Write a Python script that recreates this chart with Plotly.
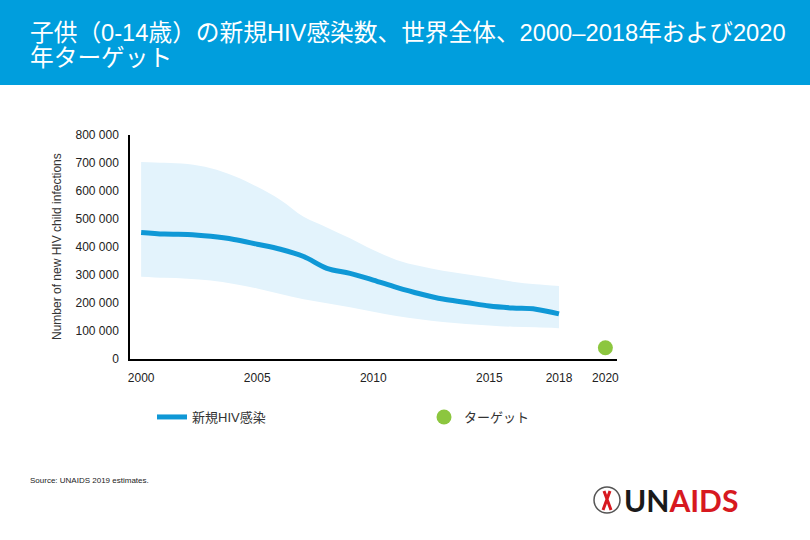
import plotly.graph_objects as go

years = list(range(2000, 2019))
central = [452000, 446000, 445000, 438000, 427000, 410000, 392000, 366000, 324000, 306000,
           282000, 256000, 233000, 214000, 202000, 189000, 182000, 178000, 161000]
upper = [704000, 701000, 696000, 681000, 654000, 615000, 568000, 508000, 470000, 431000,
         389000, 354000, 332000, 315000, 303000, 290000, 276000, 267000, 261000]
lower = [294000, 290000, 287000, 280000, 268000, 252000, 232000, 213000, 199000, 185000,
         169000, 154000, 142000, 132000, 125000, 120000, 115000, 113000, 110000]
target_year = [2020]
target_value = [40000]

x_tick_vals = [2000, 2005, 2010, 2015, 2018, 2020]
y_tick_vals = [0, 100000, 200000, 300000, 400000, 500000, 600000, 700000, 800000]
y_tick_text = ["0", "100 000", "200 000", "300 000", "400 000", "500 000", "600 000", "700 000", "800 000"]

title_line1 = "子供（0-14歳）の新規HIV感染数、世界全体、2000–2018年および2020"
title_line2 = "年ターゲット"
y_title = "Number of new HIV child infections"
source = "Source: UNAIDS 2019 estimates."

BLUE = "#0F98D6"
BAND = "#E3F3FC"
GREEN = "#8CC63F"
BANNER = "#009EDD"
FONT = "Liberation Sans, Arial, Noto Sans CJK JP, sans-serif"

W = 487.0
H = 224.0

def px(x):
    return (x - 130) / W

def py(y):
    return (359 - y) / H

fig = go.Figure()
fig.add_trace(go.Scatter(x=years, y=lower, mode="lines", line=dict(width=0, shape="spline", color=BAND),
                         showlegend=False, hoverinfo="skip"))
fig.add_trace(go.Scatter(x=years, y=upper, mode="lines", line=dict(width=0, shape="spline", color=BAND),
                         fill="tonexty", fillcolor=BAND, showlegend=False, hoverinfo="skip"))
fig.add_trace(go.Scatter(x=years, y=central, mode="lines", name="新規HIV感染", legend="legend",
                         line=dict(width=5, shape="spline", color=BLUE)))
fig.add_trace(go.Scatter(x=target_year, y=target_value, mode="markers", name="ターゲット", legend="legend2",
                         marker=dict(size=15, color=GREEN), cliponaxis=False))

legend_common = dict(orientation="h", xanchor="left", yanchor="middle",
                     font=dict(size=13, color="#333333"), bgcolor="rgba(0,0,0,0)", itemwidth=30)

fig.update_layout(
    width=810, height=540,
    margin=dict(l=130, r=193, t=135, b=181),
    paper_bgcolor="white", plot_bgcolor="white",
    hovermode=False,
    font=dict(family=FONT, size=12, color="#222222"),
    xaxis=dict(range=[1999.52, 2020.5], tickvals=x_tick_vals, showgrid=False, zeroline=False,
               showline=True, linecolor="black", linewidth=1.5, ticks="", ticklabelstandoff=7,
               tickfont=dict(size=12, color="#222222")),
    yaxis=dict(range=[0, 800000], tickvals=y_tick_vals, ticktext=y_tick_text, showgrid=False,
               zeroline=False, showline=True, linecolor="black", linewidth=1.5, ticks="",
               ticklabelstandoff=7, tickfont=dict(size=12, color="#222222")),
    legend=dict(x=px(152), y=py(417), **legend_common),
    legend2=dict(x=px(424), y=py(417), **legend_common),
    shapes=[
        dict(type="rect", xref="paper", yref="paper",
             x0=px(0), x1=px(810), y0=py(85), y1=py(0),
             line=dict(width=0), fillcolor=BANNER, layer="below"),
        dict(type="circle", xref="paper", yref="paper",
             x0=px(594), x1=px(620), y0=py(513), y1=py(487),
             line=dict(width=1.5, color="#555555"), fillcolor="white"),
        dict(type="path", xref="paper", yref="paper",
             path="M {:.4f},{:.4f} L {:.4f},{:.4f} M {:.4f},{:.4f} L {:.4f},{:.4f}".format(
                 px(603), py(510), px(610), py(491), px(611), py(510), px(604), py(491)),
             line=dict(width=3, color="#D71920")),
    ],
    annotations=[
        dict(text=title_line1, xref="paper", yref="paper", x=px(28), y=py(33),
             xanchor="left", yanchor="middle", showarrow=False,
             font=dict(size=23.7, color="white", family=FONT)),
        dict(text=title_line2, xref="paper", yref="paper", x=px(28), y=py(58),
             xanchor="left", yanchor="middle", showarrow=False,
             font=dict(size=23.7, color="white", family=FONT)),
        dict(text=y_title, xref="paper", yref="paper", x=px(57), y=0.5, textangle=-90,
             xanchor="center", yanchor="middle", showarrow=False,
             font=dict(size=12, color="#333333")),
        dict(text=source, xref="paper", yref="paper", x=px(28), y=py(480),
             xanchor="left", yanchor="middle", showarrow=False,
             font=dict(size=8, color="#222222")),
        dict(text="<b><span style='color:#1a1a1a'>UN</span><span style='color:#D71920'>AIDS</span></b>",
             xref="paper", yref="paper", x=px(622), y=py(500),
             xanchor="left", yanchor="middle", showarrow=False,
             font=dict(size=30, family="Lato, Liberation Sans, sans-serif")),
    ],
)

fig.write_html("out.html", config={"displayModeBar": False},
               post_script="document.body.style.margin='0';document.body.style.padding='0';")
